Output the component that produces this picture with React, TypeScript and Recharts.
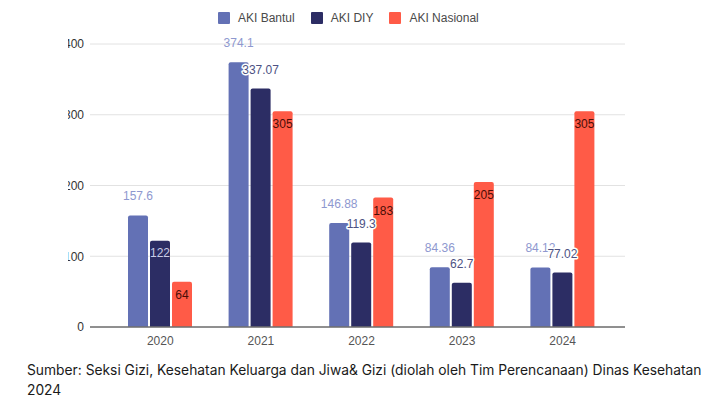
import React from 'react';
import { BarChart, Bar, XAxis, YAxis, CartesianGrid, Legend, LabelList } from 'recharts';

const years = ['2020', '2021', '2022', '2023', '2024'];
const akiBantul = [157.6, 374.1, 146.88, 84.36, 84.12];
const akiDiy = [122, 337.07, 119.3, 62.7, 77.02];
const akiNasional = [64, 305, 183, 205, 305];
const yTicks = [0, 100, 200, 300, 400];
const seriesNames = ['AKI Bantul', 'AKI DIY', 'AKI Nasional'];
const captionLines = [
  'Sumber: Seksi Gizi, Kesehatan Keluarga dan Jiwa& Gizi (diolah oleh Tim Perencanaan) Dinas Kesehatan',
  '2024',
];

const COLORS = ['#6371b5', '#2c2d64', '#ff5b47'];
const FONT = '"Liberation Sans", Arial, sans-serif';

const data = years.map((year, i) => ({
  year,
  bantul: akiBantul[i],
  diy: akiDiy[i],
  nasional: akiNasional[i],
}));

const getBox = (p: any) => {
  const vb = p.viewBox || {};
  const x = p.x ?? vb.x;
  const y = p.y ?? vb.y;
  const width = p.width ?? vb.width;
  const height = p.height ?? vb.height;
  return { x, y, width, height };
};

const BantulLabel = (p: any) => {
  const { x, y, width } = getBox(p);
  return (
    <text x={x + width / 2} y={y - 19} textAnchor="middle" dominantBaseline="central"
      fontSize={12} fontFamily={FONT} fill="#8e98cf">
      {p.value}
    </text>
  );
};

const DiyLabel = (p: any) => {
  const { x, y, width } = getBox(p);
  const inside = p.index === 0;
  return (
    <text x={x + width / 2} y={inside ? y + 12 : y - 19} textAnchor="middle" dominantBaseline="central"
      fontSize={12} fontFamily={FONT} fill={inside ? '#c9cce6' : '#4d5283'}
      stroke={inside ? 'none' : '#ffffff'} strokeWidth={3} paintOrder="stroke" strokeLinejoin="round">
      {p.value}
    </text>
  );
};

const NasionalLabel = (p: any) => {
  const { x, y, width } = getBox(p);
  return (
    <text x={x + width / 2} y={y + 13} textAnchor="middle" dominantBaseline="central"
      fontSize={12} fontFamily={FONT} fill="#4a0d06">
      {p.value}
    </text>
  );
};

const renderLegend = () => (
  <div style={{ display: 'flex', alignItems: 'center', paddingLeft: 218, height: 20, fontFamily: FONT, fontSize: 12, color: '#4a4a4a' }}>
    {seriesNames.map((name, i) => (
      <div key={name} style={{ display: 'flex', alignItems: 'center', marginRight: 16 }}>
        <span style={{ display: 'inline-block', width: 12, height: 12, background: COLORS[i], borderRadius: 1, marginRight: 8 }} />
        <span>{name}</span>
      </div>
    ))}
  </div>
);

export default function App() {
  return (
    <div style={{ position: 'fixed', left: 0, top: 0, width: 706, height: 400, background: '#fff', overflow: 'hidden' }}>
      <div style={{ position: 'absolute', left: 0, top: 0, clipPath: 'inset(0 0 0 68px)' }}>
        <BarChart width={706} height={360} data={data} barSize={20} barGap={2}
          margin={{ top: 24, right: 81, bottom: 3, left: 60 }}>
          <CartesianGrid vertical={false} stroke="#e2e2e2" strokeWidth={1} />
          <XAxis dataKey="year" padding={{ left: 20, right: 12 }} height={30}
            axisLine={{ stroke: '#6f6f6f', strokeWidth: 1.5 }} tickLine={false} tickSize={0} tickMargin={9}
            tick={{ fontSize: 12, fill: '#555', fontFamily: FONT }} />
          <YAxis domain={[0, 400]} ticks={yTicks} width={30} axisLine={false} tickLine={false}
            tickSize={0} tickMargin={6} tick={{ fontSize: 12, fill: '#333', fontFamily: FONT }} />
          <Legend verticalAlign="top" content={renderLegend} wrapperStyle={{ top: 8, left: 0, width: 706, height: 20 }} />
          <Bar dataKey="bantul" name={seriesNames[0]} fill={COLORS[0]} radius={[2, 2, 0, 0]} isAnimationActive={false}>
            <LabelList dataKey="bantul" content={BantulLabel} />
          </Bar>
          <Bar dataKey="diy" name={seriesNames[1]} fill={COLORS[1]} radius={[2, 2, 0, 0]} isAnimationActive={false}>
            <LabelList dataKey="diy" content={DiyLabel} />
          </Bar>
          <Bar dataKey="nasional" name={seriesNames[2]} fill={COLORS[2]} radius={[2, 2, 0, 0]} isAnimationActive={false}>
            <LabelList dataKey="nasional" content={NasionalLabel} />
          </Bar>
        </BarChart>
      </div>
      <div style={{ position: 'absolute', left: 27, top: 360, fontFamily: 'Inter, sans-serif', fontSize: 13.8, lineHeight: '20px', color: '#1a1a1a', whiteSpace: 'nowrap' }}>
        {captionLines.map((line) => (
          <div key={line}>{line}</div>
        ))}
      </div>
    </div>
  );
}
